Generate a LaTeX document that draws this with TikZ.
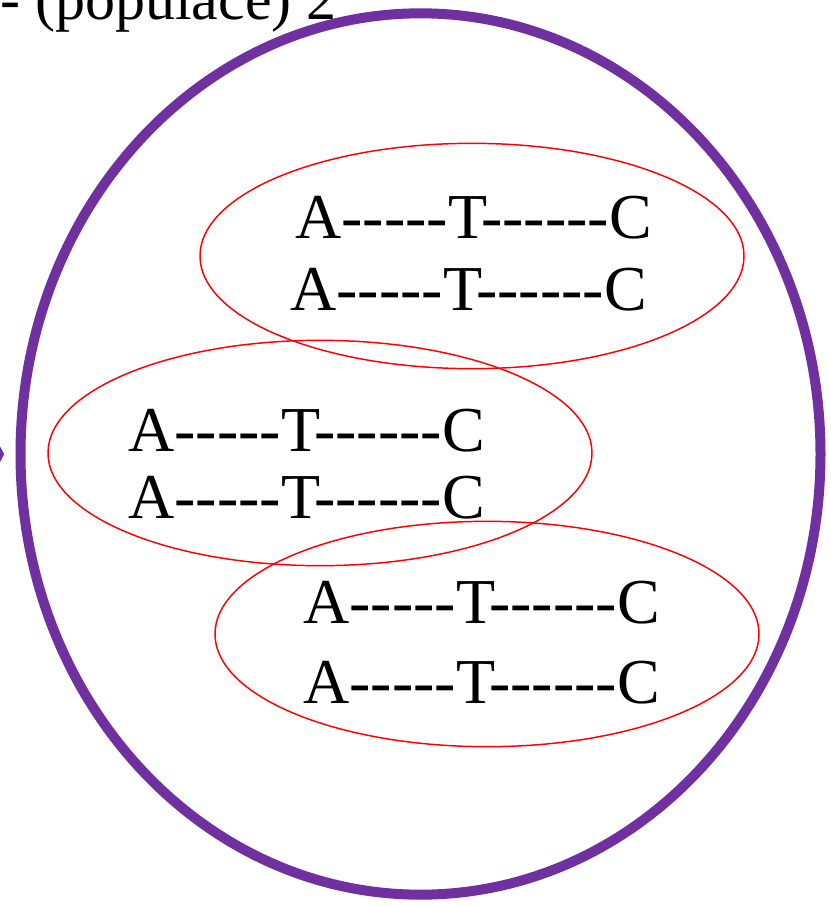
\documentclass[tikz,border=0pt]{standalone}
\usepackage{fontspec}
\setmainfont{Liberation Serif}
\usetikzlibrary{shapes.geometric,arrows.meta}
\definecolor{popviolet}{RGB}{112,48,160}
\newcommand{\atcline}{A-{}-{}-{}-{}-T-{}-{}-{}-{}-{}-C}
\begin{document}
\begin{tikzpicture}[
  x=0.75pt, y=-0.75pt,
  every node/.style={inner sep=0pt, font=\fontsize{48}{56}\selectfont, text=black},
  popring/.style={ellipse, draw=popviolet, line width=7.5pt, minimum width=600pt, minimum height=661pt},
  group/.style={ellipse, draw=red, line width=1.1pt, minimum width=408pt, minimum height=169pt},
  seq/.style={anchor=base west}
]
  \useasboundingbox (0,0) rectangle (831,906);
  \clip (0,0) rectangle (831,906);
  \node[popring] (pop) at (420.5,454) {};
  \node[anchor=base east, font=\fontsize{45}{54}\selectfont] (title) at (337,20) {- (populace) 2};
  % incoming arrow from the left (cut off)
  \coordinate (src) at (-80,455);
  \draw[popviolet, line width=7.5pt, -{Triangle[length=15pt, width=56pt]}, shorten >=8.5pt] (src) -- (pop.west);
  % groups of sequences
  \node[group] (g1) at (472,256) {};
  \node[group] (g2) at (320,453) {};
  \node[group] (g3) at (487,634) {};
  \node[seq] (s1a) at (295,238) {\atcline};
  \node[seq] (s1b) at (290,310) {\atcline};
  \node[seq] (s2a) at (128,451) {\atcline};
  \node[seq] (s2b) at (128,518) {\atcline};
  \node[seq] (s3a) at (303,623) {\atcline};
  \node[seq] (s3b) at (303,703) {\atcline};
\end{tikzpicture}
\end{document}
